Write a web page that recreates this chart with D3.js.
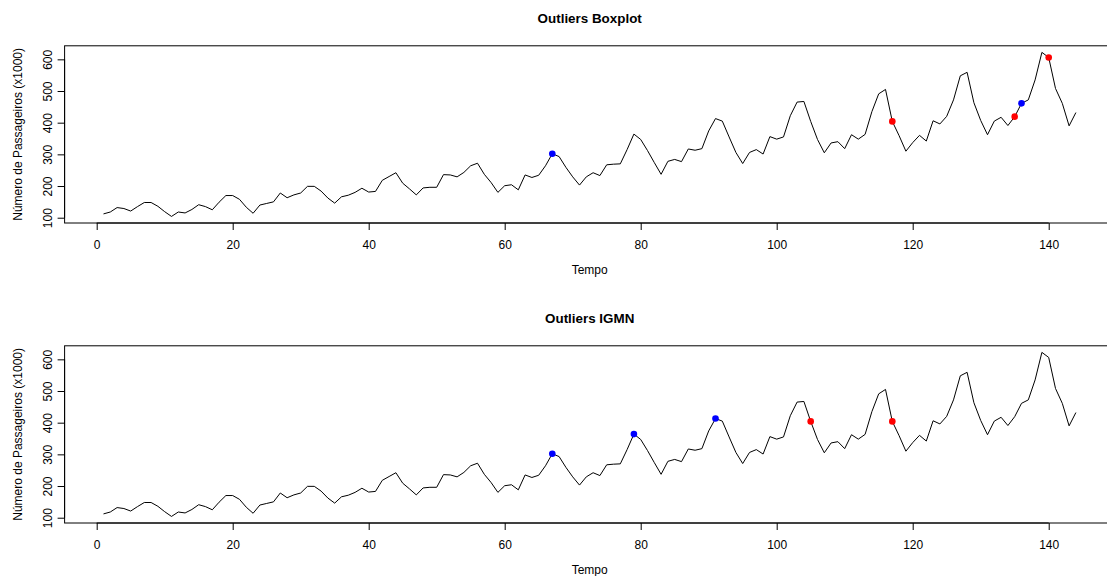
<!DOCTYPE html>
<html>
<head>
<meta charset="utf-8">
<script src="https://cdn.jsdelivr.net/npm/d3@7"></script>
<style>
  html, body { margin: 0; padding: 0; background: #fff; }
  svg text { font-family: "Liberation Sans", Arial, Helvetica, sans-serif; fill: #000; }
</style>
</head>
<body>
<script>
// Monthly airline passengers (thousands), 144 months
const passengers = [
  112,118,132,129,121,135,148,148,136,119,104,118,
  115,126,141,135,125,149,170,170,158,133,114,140,
  145,150,178,163,172,178,199,199,184,162,146,166,
  171,180,193,181,183,218,230,242,209,191,172,194,
  196,196,236,235,229,243,264,272,237,211,180,201,
  204,188,235,227,234,264,302,293,259,229,203,229,
  242,233,267,269,270,315,364,347,312,274,237,278,
  284,277,317,313,318,374,413,405,355,306,271,306,
  315,301,356,348,355,422,465,467,404,347,305,336,
  340,318,362,348,363,435,491,505,404,359,310,337,
  360,342,406,396,420,472,548,559,463,407,362,405,
  417,391,419,461,472,535,622,606,508,461,390,432
];
const months = passengers.map((_, i) => i + 1);

// Flagged time indices per method
const boxplotBlue = [67, 136];
const boxplotRed = [117, 135, 140];
const igmnBlue = [67, 79, 91];
const igmnRed = [105, 117];

const xTicks = [0, 20, 40, 60, 80, 100, 120, 140];
const yTicks = [100, 200, 300, 400, 500, 600];

const panels = [
  { title: "Outliers Boxplot", blue: boxplotBlue, red: boxplotRed, top: 45.8 },
  { title: "Outliers IGMN", blue: igmnBlue, red: igmnRed, top: 345.8 }
];

const W = 1107, H = 576;
const svg = d3.select("body").append("svg").attr("width", W).attr("height", H);

const left = 64.6, right = 1114.8, plotH = 177.2;

// R-style 4% padding on both axes
const xMin = 1, xMax = 144;
const xPad = (xMax - xMin) * 0.04;
const yMin = d3.min(passengers), yMax = d3.max(passengers);
const yPad = (yMax - yMin) * 0.04;

panels.forEach(p => {
  const g = svg.append("g");
  const top = p.top, bottom = p.top + plotH;
  const x = d3.scaleLinear().domain([xMin - xPad, xMax + xPad]).range([left, right]);
  const y = d3.scaleLinear().domain([yMin - yPad, yMax + yPad]).range([bottom, top]);

  // frame
  g.append("rect").attr("x", left).attr("y", top)
    .attr("width", right - left).attr("height", bottom - top)
    .attr("fill", "none").attr("stroke", "#000").attr("stroke-width", 1);

  // x axis
  const xAxis = g.append("g").attr("transform", `translate(0,${bottom})`)
    .call(d3.axisBottom(x).tickValues(xTicks).tickSize(7).tickPadding(10).tickFormat(d3.format("d")));
  xAxis.select(".domain").attr("d", `M${x(0)},0H${x(140)}`).attr("stroke", "#000");
  xAxis.selectAll("line").attr("stroke", "#000");
  xAxis.selectAll("text").attr("font-size", 12).attr("font-family", "Liberation Sans, Arial, sans-serif");

  // y axis with rotated labels
  const yAxis = g.append("g").attr("transform", `translate(${left},0)`)
    .call(d3.axisLeft(y).tickValues(yTicks).tickSize(7).tickFormat(d3.format("d")));
  yAxis.select(".domain").attr("d", `M0,${y(100)}V${y(600)}`).attr("stroke", "#000");
  yAxis.selectAll("line").attr("stroke", "#000");
  yAxis.selectAll(".tick text")
    .attr("x", null).attr("dy", null)
    .attr("text-anchor", "middle")
    .attr("transform", "translate(-17,0) rotate(-90)")
    .attr("y", 0).attr("dominant-baseline", "central")
    .attr("font-size", 12).attr("font-family", "Liberation Sans, Arial, sans-serif");

  // series line
  const line = d3.line().x((d, i) => x(months[i])).y(d => y(d));
  g.append("path").datum(passengers)
    .attr("d", line).attr("fill", "none").attr("stroke", "#000").attr("stroke-width", 1);

  // flagged points
  g.selectAll("circle.blue").data(p.blue).join("circle")
    .attr("class", "blue")
    .attr("cx", d => x(d)).attr("cy", d => y(passengers[d - 1])).attr("r", 3.3)
    .attr("fill", "#0000ff");
  g.selectAll("circle.red").data(p.red).join("circle")
    .attr("class", "red")
    .attr("cx", d => x(d)).attr("cy", d => y(passengers[d - 1])).attr("r", 3.3)
    .attr("fill", "#ff0000");

  // titles and axis labels
  const cx = (left + right) / 2;
  g.append("text").attr("x", cx).attr("y", top - 23)
    .attr("text-anchor", "middle").attr("font-size", 13.4).attr("font-weight", "bold")
    .text(p.title);
  g.append("text").attr("x", cx).attr("y", bottom + 51)
    .attr("text-anchor", "middle").attr("font-size", 12)
    .text("Tempo");
  g.append("text")
    .attr("transform", `translate(22,${(top + bottom) / 2}) rotate(-90)`)
    .attr("text-anchor", "middle").attr("font-size", 12)
    .text("Número de Passageiros (x1000)");
});
</script>
</body>
</html>
